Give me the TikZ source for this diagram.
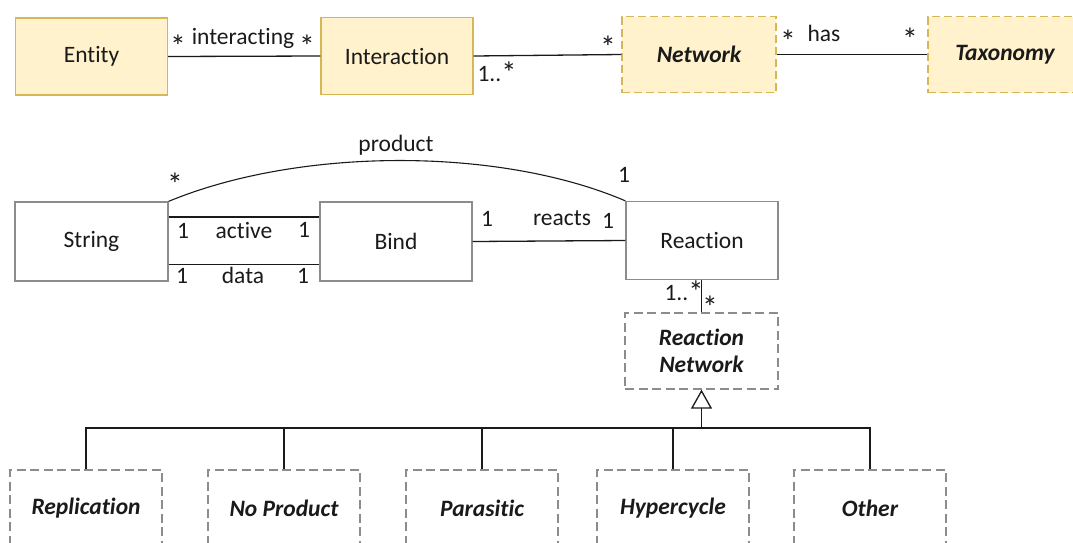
\documentclass[tikz,border=0pt]{standalone}
\usepackage{fontspec}
\setmainfont[Ligatures={NoCommon}]{Carlito}
\usetikzlibrary{arrows.meta}
\definecolor{noteFill}{HTML}{FFF2CC}
\definecolor{noteLine}{HTML}{D6B656}
\definecolor{boxLine}{HTML}{8C8C8C}
\definecolor{ink}{HTML}{1A1A1A}
\newcommand{\mstar}{\scalebox{1.35}{*}}
\newcommand{\manymult}{1..\raisebox{-2pt}{\scalebox{1.3}{*}}}
\tikzset{
  every node/.style={font=\fontsize{23.5}{27}\selectfont, text=ink},
  cls/.style={draw=boxLine, line width=1.3pt, fill=white, inner sep=0pt},
  yellowcls/.style={cls, draw=noteLine, fill=noteFill},
  abstractcls/.style={cls, dashed, dash pattern=on 9pt off 4.5pt, font=\fontsize{23.5}{28}\selectfont\bfseries\itshape},
  yellowabs/.style={yellowcls, dash pattern=on 8pt off 4pt, font=\fontsize{23.5}{27}\selectfont\bfseries\itshape},
  assoc/.style={draw=ink, line width=1.3pt},
  lbl/.style={inner sep=0pt}
}
\begin{document}
\begin{tikzpicture}[x=1pt, y=-1pt]
\useasboundingbox (0,0) rectangle (1073,542);

% top row
\node[yellowcls, minimum width=152pt, minimum height=77pt] (entity) at (91.5,56.5) {Entity};
\node[yellowcls, minimum width=152pt, minimum height=77pt] (interaction) at (397,56) {Interaction};
\node[yellowabs, minimum width=154pt, minimum height=76pt] (network) at (699,54.5) {Network};
\node[yellowabs, minimum width=154pt, minimum height=76pt] (taxonomy) at (1005,54.5) {Taxonomy};

\draw[assoc] (entity.east) -- (interaction.west);
\draw[assoc] (interaction.east) -- (network.west);
\draw[assoc] (network.east) -- (taxonomy.west);

\node[lbl] (m1) at (178,46) {\mstar};
\node[lbl] (l1) at (243,38) {interacting};
\node[lbl] (m2) at (307,46) {\mstar};
\node[lbl] (m3) at (497,73) {\manymult};
\node[lbl] (m4) at (608,47) {\mstar};
\node[lbl] (m5) at (788,41) {\mstar};
\node[lbl] (l2) at (824,33) {has};
\node[lbl] (m6) at (910,39) {\mstar};

% middle row
\node[cls, minimum width=153pt, minimum height=79pt] (string) at (91.5,241.5) {String};
\node[cls, minimum width=152pt, minimum height=79pt] (bind) at (396,241.5) {Bind};
\node[cls, minimum width=152pt, minimum height=78pt] (reaction) at (702,240.5) {Reaction};

\draw[assoc] ([yshift=-15.5pt]string.north east) -- ([yshift=-15.5pt]bind.north west);
\draw[assoc] ([yshift=17pt]string.south east) -- ([yshift=17pt]bind.south west);
\draw[assoc] (bind.east) -- (reaction.west);
\draw[draw=ink, line width=1.1pt] (string.north east) .. controls (300,147) and (500,147) .. (reaction.north west);

\node[lbl] (p1) at (396,145) {product};
\node[lbl] (p2) at (175,184) {\mstar};
\node[lbl] (p3) at (624,175) {1};
\node[lbl] (a1) at (183,231) {1};
\node[lbl] (a2) at (244,230) {active};
\node[lbl] (a3) at (304,230) {1};
\node[lbl] (d1) at (182,276) {1};
\node[lbl] (d2) at (243,275) {data};
\node[lbl] (d3) at (303,276) {1};
\node[lbl] (r1) at (487,219) {1};
\node[lbl] (r2) at (562,218) {reacts};
\node[lbl] (r3) at (608,221) {1};

% reaction network and its specialisations
\node[abstractcls, minimum width=153pt, minimum height=76pt, align=center] (rnet) at (701.5,351) {Reaction\\[-1pt]Network};
\draw[assoc] (reaction.south -| rnet.north) -- (rnet.north);
\node[lbl] (n1) at (684,292) {\manymult};
\node[lbl] (n2) at (710,307) {\mstar};

\node[abstractcls, minimum width=152pt, minimum height=76pt] (replication) at (86,508) {Replication};
\node[abstractcls, minimum width=152pt, minimum height=76pt] (noproduct) at (284,508) {No Product};
\node[abstractcls, minimum width=152pt, minimum height=76pt] (parasitic) at (482,508) {Parasitic};
\node[abstractcls, minimum width=152pt, minimum height=76pt] (hypercycle) at (673,508) {Hypercycle};
\node[abstractcls, minimum width=152pt, minimum height=76pt] (other) at (870,508) {Other};

\coordinate (bus) at (rnet.south |- 0,428);
\draw[assoc] (replication.north) |- (bus) -| (other.north);
\draw[assoc] (noproduct.north) -- (noproduct.north |- bus);
\draw[assoc] (parasitic.north) -- (parasitic.north |- bus);
\draw[assoc] (hypercycle.north) -- (hypercycle.north |- bus);
\draw[assoc, -{Triangle[open, length=19pt, width=21pt, fill=white]}] (bus) -- (rnet.south);
\end{tikzpicture}
\end{document}
